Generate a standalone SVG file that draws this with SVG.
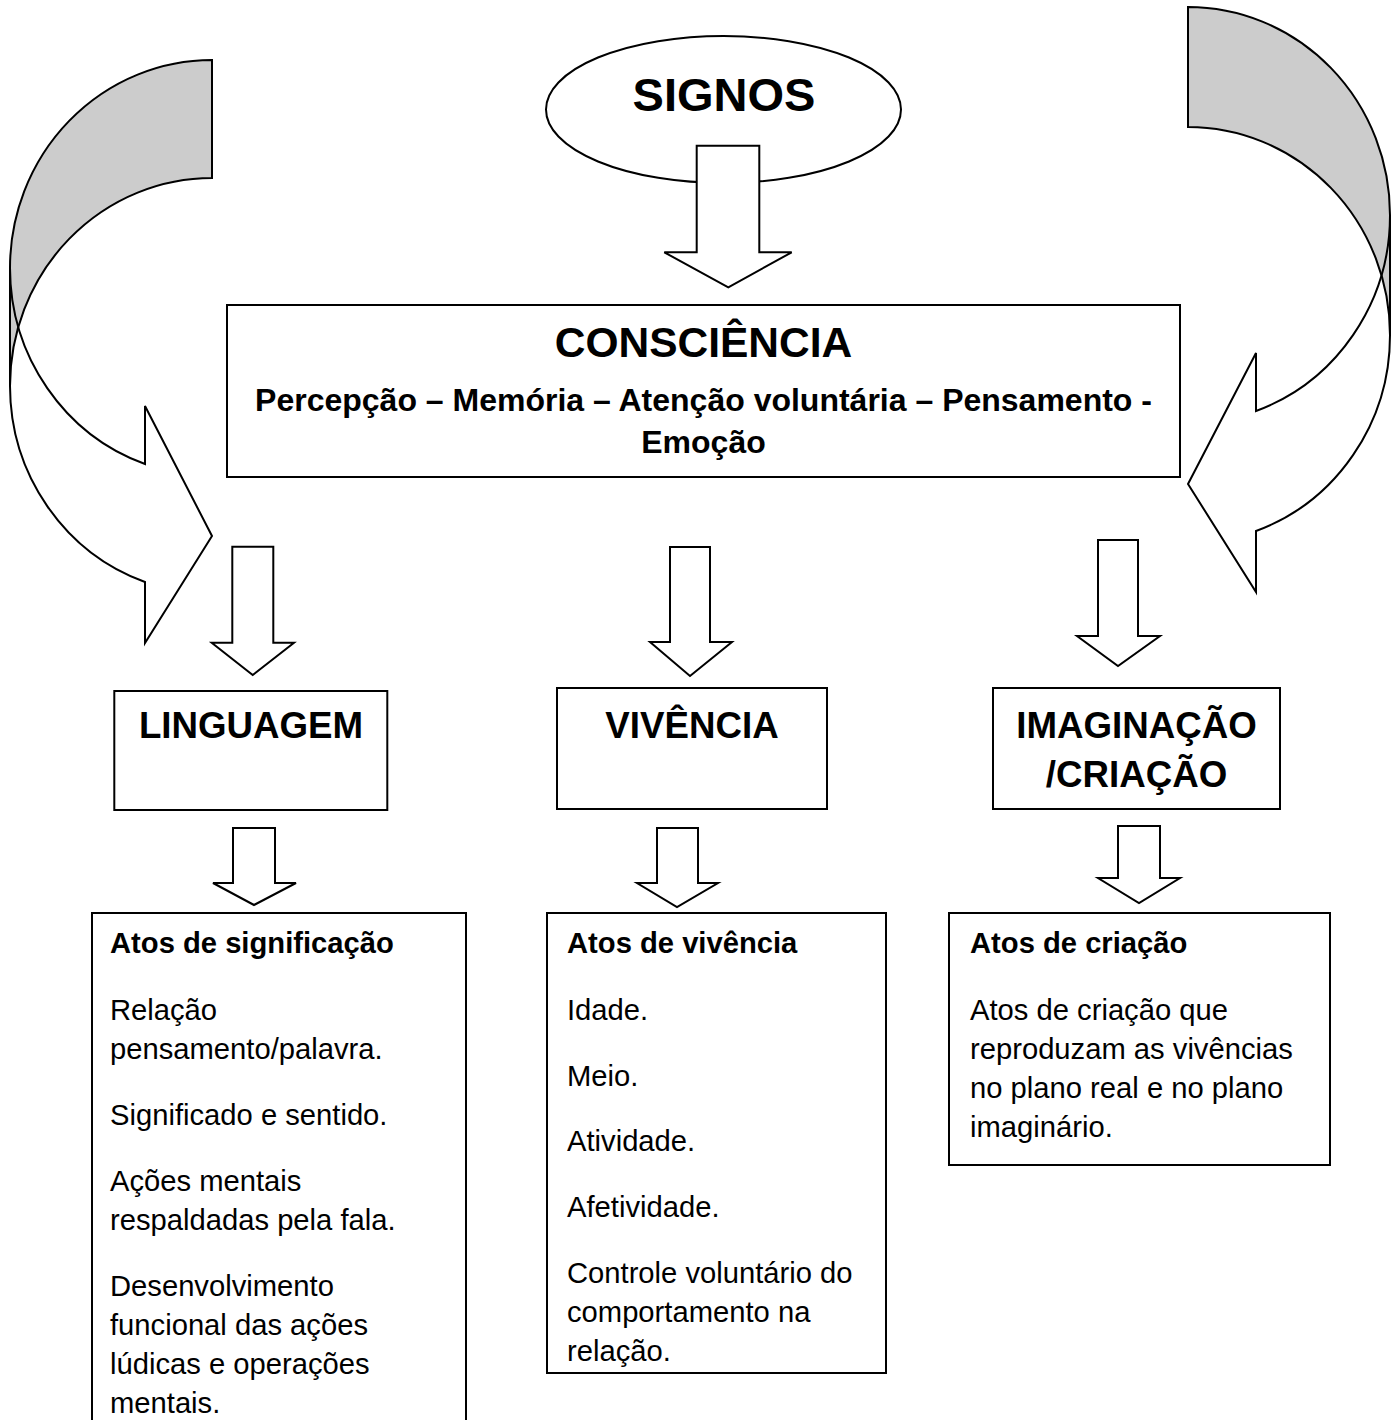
<svg xmlns="http://www.w3.org/2000/svg" width="1400" height="1420" viewBox="0 0 1400 1420">
<style>
.ln{fill:none;stroke:#000;stroke-width:2;stroke-linejoin:miter}
.wf{fill:#fff;stroke:none}
.gf{fill:#cccccc;stroke:none}
.box{fill:#fff;stroke:#000;stroke-width:2}
.arr{fill:#fff;stroke:#000;stroke-width:2;stroke-linejoin:miter}
text{font-family:"Liberation Sans",Arial,sans-serif;fill:#000}
.b{font-weight:bold}
.h{font-size:36.7px;font-weight:bold}
.t{font-size:29.2px}
</style>
<rect width="1400" height="1420" fill="#fff"/>

<g id="curved-left">
<path class="wf" d="M10,268 A202,208 0 0 0 145,464 L145,406 L212,536 L145,643 L145,582 A202,208 0 0 1 10,386 Z"/>
<path class="gf" d="M212,60 A202,208 0 0 0 10,268 L10,386 A202,208 0 0 1 212,178 Z"/>
<path class="ln" d="M10,268 A202,208 0 0 0 145,464 L145,406 L212,536 L145,643 L145,582 A202,208 0 0 1 10,386 Z"/>
<path class="ln" d="M212,60 A202,208 0 0 0 10,268 L10,386 A202,208 0 0 1 212,178 Z"/>
</g>

<g id="curved-right">
<path class="wf" d="M1390,215 A202,208 0 0 1 1256,411 L1256,353 L1188,484 L1256,592 L1256,531 A202,208 0 0 0 1390,335 Z"/>
<path class="gf" d="M1188,7 A202,208 0 0 1 1390,215 L1390,335 A202,208 0 0 0 1188,127 Z"/>
<path class="ln" d="M1390,215 A202,208 0 0 1 1256,411 L1256,353 L1188,484 L1256,592 L1256,531 A202,208 0 0 0 1390,335 Z"/>
<path class="ln" d="M1188,7 A202,208 0 0 1 1390,215 L1390,335 A202,208 0 0 0 1188,127 Z"/>
</g>

<g id="signos">
<ellipse cx="723.5" cy="109.5" rx="177.5" ry="73.5" class="box"/>
<text x="724" y="111" text-anchor="middle" class="b" font-size="47">SIGNOS</text>
</g>

<g id="connectors">
<path class="arr" d="M696.7,145.7 H759.3 V252.3 H791.7 L728.3,287.3 L664.3,252.3 H696.7 Z"/>
<path class="arr" d="M232.3,546.7 H273.3 V642.7 H294 L252.7,675 L211.7,642.7 H232.3 Z"/>
<path class="arr" d="M670,547 H710 V642 H732 L690,676 L650,642 H670 Z"/>
<path class="arr" d="M1098,540 H1138 V636 H1160 L1118,666 L1077,636 H1098 Z"/>
<path class="arr" d="M233,828 H275 V883 H296 L254,905 L213,883 H233 Z"/>
<path class="arr" d="M657,828 H698 V883 H718 L677,907 L637,883 H657 Z"/>
<path class="arr" d="M1118,826 H1160 V878 H1180 L1139,903 L1098,878 H1118 Z"/>
</g>

<g id="consciencia">
<rect x="227" y="305" width="953" height="172" class="box"/>
<text x="703.5" y="357" text-anchor="middle" class="b" font-size="42.5">CONSCIÊNCIA</text>
<text x="703.5" y="411" text-anchor="middle" class="b" font-size="32">Percepção – Memória – Atenção voluntária – Pensamento -</text>
<text x="703.5" y="453" text-anchor="middle" class="b" font-size="32">Emoção</text>
</g>

<g id="linguagem">
<rect x="114.3" y="691" width="273" height="119" class="box"/>
<text x="251" y="738.3" text-anchor="middle" class="h">LINGUAGEM</text>
</g>

<g id="vivencia">
<rect x="557" y="688" width="270" height="121" class="box"/>
<text x="692" y="738.3" text-anchor="middle" class="h">VIVÊNCIA</text>
</g>

<g id="imaginacao">
<rect x="993" y="688" width="287" height="121" class="box"/>
<text x="1136.5" y="738.3" text-anchor="middle" class="h">IMAGINAÇÃO</text>
<text x="1136.5" y="786.5" text-anchor="middle" class="h">/CRIAÇÃO</text>
</g>

<g id="atos-significacao">
<rect x="92" y="913" width="374" height="520" class="box"/>
<text x="110" y="953" class="t b">Atos de significação</text>
<text x="110" y="1020" class="t">Relação</text>
<text x="110" y="1059" class="t">pensamento/palavra.</text>
<text x="110" y="1125" class="t">Significado e sentido.</text>
<text x="110" y="1191" class="t">Ações mentais</text>
<text x="110" y="1230" class="t">respaldadas pela fala.</text>
<text x="110" y="1296" class="t">Desenvolvimento</text>
<text x="110" y="1335" class="t">funcional das ações</text>
<text x="110" y="1374" class="t">lúdicas e operações</text>
<text x="110" y="1413" class="t">mentais.</text>
</g>

<g id="atos-vivencia">
<rect x="547" y="913" width="339" height="460" class="box"/>
<text x="567" y="953" class="t b">Atos de vivência</text>
<text x="567" y="1020" class="t">Idade.</text>
<text x="567" y="1086" class="t">Meio.</text>
<text x="567" y="1151" class="t">Atividade.</text>
<text x="567" y="1217" class="t">Afetividade.</text>
<text x="567" y="1283" class="t">Controle voluntário do</text>
<text x="567" y="1322" class="t">comportamento na</text>
<text x="567" y="1361" class="t">relação.</text>
</g>

<g id="atos-criacao">
<rect x="949" y="913" width="381" height="252" class="box"/>
<text x="970" y="953" class="t b">Atos de criação</text>
<text x="970" y="1020" class="t">Atos de criação que</text>
<text x="970" y="1059" class="t">reproduzam as vivências</text>
<text x="970" y="1098" class="t">no plano real e no plano</text>
<text x="970" y="1137" class="t">imaginário.</text>
</g>
</svg>
